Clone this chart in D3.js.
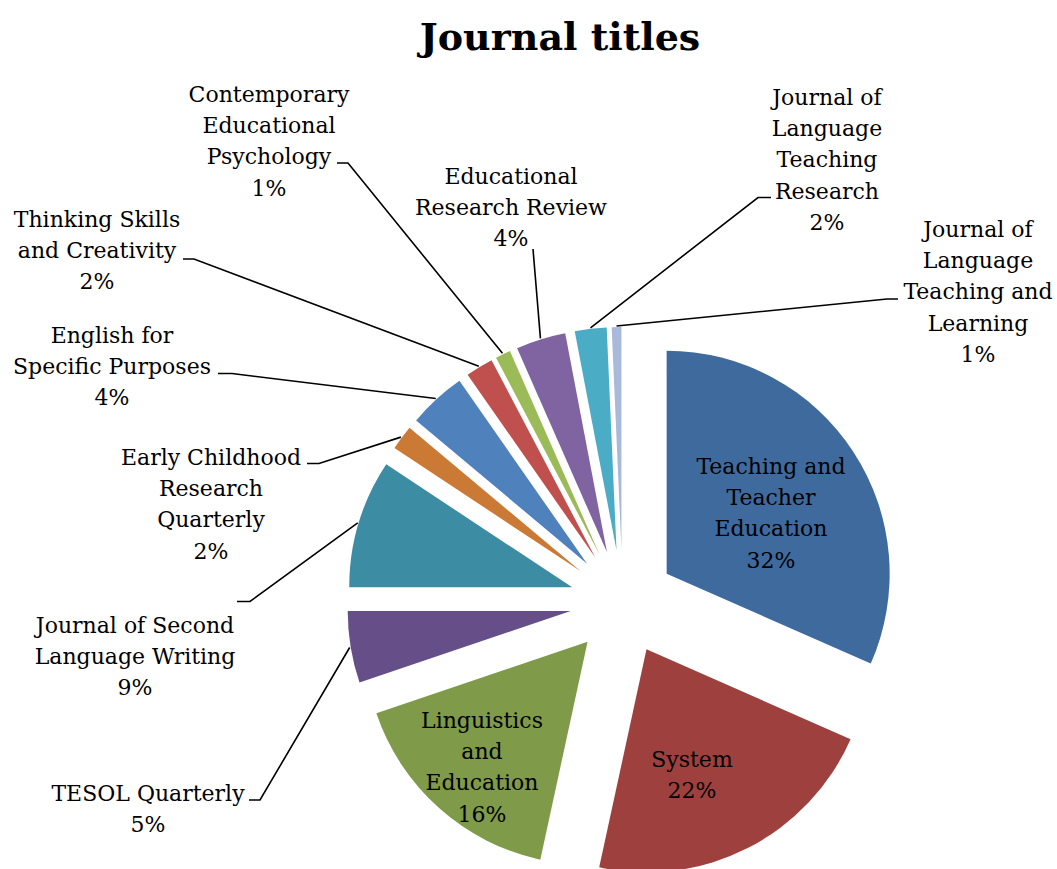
<!DOCTYPE html>
<html>
<head>
<meta charset="utf-8">
<script src="https://cdn.jsdelivr.net/npm/d3@7"></script>
<style>
  html, body { margin: 0; padding: 0; background: #fff; }
  svg { display: block; }
  text { font-family: "DejaVu Serif", serif; fill: #000; }
</style>
</head>
<body>
<svg id="chart" width="1057" height="869"></svg>
<script>
// ---- data ----
const journals = [
  "Teaching and Teacher Education",
  "System",
  "Linguistics and Education",
  "TESOL Quarterly",
  "Journal of Second Language Writing",
  "Early Childhood Research Quarterly",
  "English for Specific Purposes",
  "Thinking Skills and Creativity",
  "Contemporary Educational Psychology",
  "Educational Research Review",
  "Journal of Language Teaching Research",
  "Journal of Language Teaching and Learning"
];
// shares in percent
const percents = [31.6, 21.8, 16.4, 5.2, 9.3, 1.8, 4.2, 2.0, 1.1, 3.6, 2.3, 0.7];
const titleText = "Journal titles";

// ---- style / layout ----
const colors = ["#3F6A9E", "#9E413E", "#7F9A48", "#664F88", "#3C8CA4", "#CB7A36",
                "#4F81BD", "#C0504D", "#9BBB59", "#8064A2", "#4BACC6", "#A8B9D9"];
// label line breaks (layout)
const labelLines = [
  ["Teaching and", "Teacher", "Education"],
  ["System"],
  ["Linguistics", "and", "Education"],
  ["TESOL Quarterly"],
  ["Journal of Second", "Language Writing"],
  ["Early Childhood", "Research", "Quarterly"],
  ["English for", "Specific Purposes"],
  ["Thinking Skills", "and Creativity"],
  ["Contemporary", "Educational", "Psychology"],
  ["Educational", "Research Review"],
  ["Journal of", "Language", "Teaching", "Research"],
  ["Journal of", "Language", "Teaching and", "Learning"]
];
// label centre x, first baseline y
const labelX = [771, 692, 482, 148, 135, 211, 112, 97, 269, 511, 827, 978];
const labelY = [474, 767, 728, 801, 633, 465, 343, 227, 102, 184, 105, 237];
// leader elbows: [startX, startY, elbowX, elbowY] (null = inside label)
const leaders = [
  null, null, null,
  [249, 800, 260, 800],
  [237, 601.5, 250, 601.5],
  [307, 463.5, 319, 463.5],
  [218, 373.5, 232, 373.5],
  [183, 259, 194, 259],
  [337, 163, 348, 163],
  [533, 249, 533, 249],
  [771, 197.5, 758, 197.5],
  [898, 299, 887, 299]
];

const cx = 622.6, cy = 602.5, radius = 223, explode = 52.6, lineH = 31.2;
const fmtPct = v => Math.round(v) + "%";

const svg = d3.select("#chart");

svg.append("text")
  .attr("x", 560).attr("y", 50)
  .attr("text-anchor", "middle")
  .style("font-size", "38px").style("font-weight", "bold")
  .text(titleText);

const pie = d3.pie().sort(null).value(d => d).startAngle(0).endAngle(2 * Math.PI);
const arcs = pie(percents);
const arc = d3.arc().innerRadius(0).outerRadius(radius);

const g = svg.append("g").attr("transform", `translate(${cx},${cy})`);

arcs.forEach((a, i) => {
  const mid = (a.startAngle + a.endAngle) / 2;
  const dx = Math.sin(mid) * explode, dy = -Math.cos(mid) * explode;
  g.append("path")
    .attr("d", arc(a))
    .attr("transform", `translate(${dx},${dy})`)
    .attr("fill", colors[i]);
});

// leaders
arcs.forEach((a, i) => {
  const L = leaders[i];
  if (!L) return;
  const mid = (a.startAngle + a.endAngle) / 2;
  const ex = cx + Math.sin(mid) * (radius + explode + 1);
  const ey = cy - Math.cos(mid) * (radius + explode + 1);
  svg.append("path")
    .attr("d", d3.line()([[L[0], L[1]], [L[2], L[3]], [ex, ey]]))
    .attr("fill", "none")
    .attr("stroke", "#000")
    .attr("stroke-width", 1.6);
});

// labels
arcs.forEach((a, i) => {
  const lines = labelLines[i].concat([fmtPct(a.data)]);
  const t = svg.append("text")
    .attr("text-anchor", "middle")
    .style("font-size", "22px");
  lines.forEach((ln, k) => {
    t.append("tspan").attr("x", labelX[i]).attr("y", labelY[i] + k * lineH).text(ln);
  });
});
</script>
</body>
</html>
